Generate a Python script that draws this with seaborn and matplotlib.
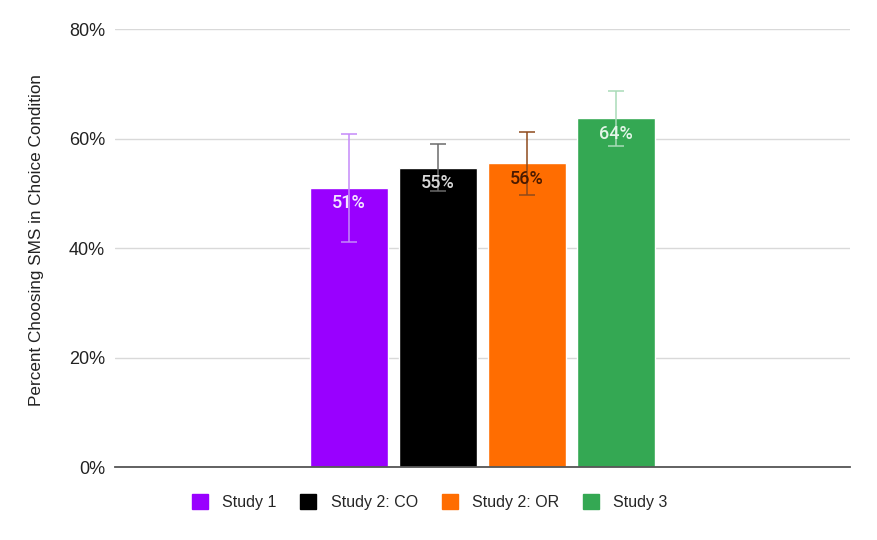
import numpy as np
import pandas as pd
import matplotlib
matplotlib.use("Agg")
import matplotlib.pyplot as plt
import seaborn as sns
from matplotlib.patches import Patch

####################################################################################
## DATA
studies = ["Study 1", "Study 2: CO", "Study 2: OR", "Study 3"]
pct_sms = [51.0, 54.7, 55.5, 63.7]     # percent choosing SMS
err_half = [9.9, 4.3, 5.8, 5.0]        # half-width of error bar
value_labels = ["51%", "55%", "56%", "64%"]
y_ticks = [0, 20, 40, 60, 80]

bar_colors = ["#9900ff", "#000000", "#ff6d01", "#34a853"]
err_colors = ["#c58af9", "#6b6b6b", "#8e4a1c", "#a9dbb8"]
label_colors = ["#f3e6ff", "#d9d9d9", "#4a1a00", "#e3f5e8"]

df = pd.DataFrame({"group": ["all"] * len(studies), "study": studies, "pct": pct_sms})
####################################################################################

sns.set_style("white")
plt.rcParams["font.family"] = ["Liberation Sans", "DejaVu Sans"]

fig = plt.figure(figsize=(8.77, 5.4), dpi=100)
ax = fig.add_axes([0.131, 0.135, 0.838, 0.811])

sns.barplot(
    data=df, x="group", y="pct", hue="study",
    palette=bar_colors, saturation=1, width=0.484, gap=0.124,
    errorbar=None, legend=False, ax=ax, zorder=2,
)

# error bars + value labels at the bar centres seaborn gave us
bars = ax.patches[:len(studies)]
for i, bar in enumerate(bars):
    cx = bar.get_x() + bar.get_width() / 2
    ax.errorbar(cx, pct_sms[i], yerr=err_half[i], fmt="none",
                ecolor=err_colors[i], elinewidth=1.1, capsize=5.5,
                capthick=1.1, zorder=3)
    ax.annotate(value_labels[i], (cx, pct_sms[i]), xytext=(0, -11),
                textcoords="offset points", ha="center", va="center",
                fontsize=13, color=label_colors[i], family="Roboto",
                fontweight="medium", zorder=4)

ax.set_xlim(-0.5, 0.5)
ax.set_ylim(0, 80)
ax.set_yticks(y_ticks)
ax.set_yticklabels([f"{t}%" for t in y_ticks], fontsize=13, color="#222222")
ax.set_xticks([])
ax.set_xlabel("")
ax.set_ylabel("Percent Choosing SMS in Choice Condition", fontsize=12.3,
              color="#222222")
ax.yaxis.set_label_coords(-0.097, 0.518)
ax.tick_params(axis="y", length=0, pad=7)

ax.grid(axis="y", color="#d9d9d9", linewidth=1, zorder=0)
ax.set_axisbelow(True)
for side in ["top", "right", "left"]:
    ax.spines[side].set_visible(False)
ax.spines["bottom"].set_color("#555555")
ax.spines["bottom"].set_linewidth(1.3)
ax.spines["bottom"].set_zorder(5)

handles = [Patch(facecolor=c, edgecolor=c) for c in bar_colors]
fig.legend(handles, studies, loc="center", bbox_to_anchor=(0.49, 0.07),
           ncol=4, frameon=False, fontsize=11.5, handlelength=1.0,
           handleheight=1.0, handletextpad=0.9, columnspacing=1.5)

fig.savefig("out.png", dpi=100)
